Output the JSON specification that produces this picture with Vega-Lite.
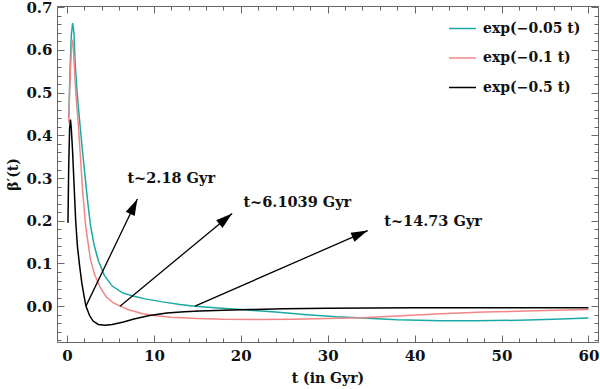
{
  "$schema": "https://vega.github.io/schema/vega-lite/v6.json",
  "width": 541,
  "height": 336,
  "autosize": {"type": "none"},
  "padding": {"left": 57, "top": 6, "right": 2, "bottom": 47},
  "background": "white",
  "config": {
    "view": {"stroke": "#666666", "strokeWidth": 1},
    "axis": {
      "domain": false, "grid": false, "tickColor": "#666666", "tickWidth": 1,
      "labelFont": "DejaVu Serif", "labelFontWeight": "bold", "labelFontSize": 15, "labelColor": "#111111",
      "titleFont": "DejaVu Serif", "titleFontWeight": "bold", "titleFontSize": 14, "titleColor": "#111111"
    },
    "legend": {
      "orient": "none", "legendX": 391, "legendY": 8, "padding": 0, "symbolType": "stroke", "symbolSize": 729,
      "symbolStrokeWidth": 1.5, "labelFont": "DejaVu Serif", "labelFontWeight": "bold", "labelFontSize": 14,
      "labelColor": "#111111", "labelOffset": 6, "rowPadding": 7.5
    }
  },
  "datasets": {
    "curves": [
      {"s": "exp(−0.05 t)", "t": 0.2, "v": 0.44},
      {"s": "exp(−0.05 t)", "t": 0.35, "v": 0.555},
      {"s": "exp(−0.05 t)", "t": 0.5, "v": 0.635},
      {"s": "exp(−0.05 t)", "t": 0.65, "v": 0.663},
      {"s": "exp(−0.05 t)", "t": 0.8, "v": 0.64},
      {"s": "exp(−0.05 t)", "t": 0.95, "v": 0.565},
      {"s": "exp(−0.05 t)", "t": 1.2, "v": 0.49},
      {"s": "exp(−0.05 t)", "t": 1.45, "v": 0.435},
      {"s": "exp(−0.05 t)", "t": 1.7, "v": 0.38},
      {"s": "exp(−0.05 t)", "t": 1.95, "v": 0.33},
      {"s": "exp(−0.05 t)", "t": 2.35, "v": 0.25},
      {"s": "exp(−0.05 t)", "t": 2.7, "v": 0.19},
      {"s": "exp(−0.05 t)", "t": 3.1, "v": 0.145},
      {"s": "exp(−0.05 t)", "t": 3.6, "v": 0.107},
      {"s": "exp(−0.05 t)", "t": 4.3, "v": 0.072},
      {"s": "exp(−0.05 t)", "t": 5.2, "v": 0.047},
      {"s": "exp(−0.05 t)", "t": 6.4, "v": 0.031},
      {"s": "exp(−0.05 t)", "t": 7.7, "v": 0.023},
      {"s": "exp(−0.05 t)", "t": 9, "v": 0.017},
      {"s": "exp(−0.05 t)", "t": 11, "v": 0.01},
      {"s": "exp(−0.05 t)", "t": 13, "v": 0.004},
      {"s": "exp(−0.05 t)", "t": 14.73, "v": 0},
      {"s": "exp(−0.05 t)", "t": 17, "v": -0.004},
      {"s": "exp(−0.05 t)", "t": 20, "v": -0.008},
      {"s": "exp(−0.05 t)", "t": 24, "v": -0.014},
      {"s": "exp(−0.05 t)", "t": 27.6, "v": -0.02},
      {"s": "exp(−0.05 t)", "t": 31, "v": -0.025},
      {"s": "exp(−0.05 t)", "t": 34, "v": -0.028},
      {"s": "exp(−0.05 t)", "t": 38, "v": -0.032},
      {"s": "exp(−0.05 t)", "t": 43, "v": -0.034},
      {"s": "exp(−0.05 t)", "t": 47, "v": -0.0345},
      {"s": "exp(−0.05 t)", "t": 52, "v": -0.033},
      {"s": "exp(−0.05 t)", "t": 56, "v": -0.031},
      {"s": "exp(−0.05 t)", "t": 60, "v": -0.028},

      {"s": "exp(−0.1 t)", "t": 0.2, "v": 0.43},
      {"s": "exp(−0.1 t)", "t": 0.35, "v": 0.53},
      {"s": "exp(−0.1 t)", "t": 0.5, "v": 0.6},
      {"s": "exp(−0.1 t)", "t": 0.6, "v": 0.624},
      {"s": "exp(−0.1 t)", "t": 0.72, "v": 0.61},
      {"s": "exp(−0.1 t)", "t": 0.9, "v": 0.54},
      {"s": "exp(−0.1 t)", "t": 1.05, "v": 0.49},
      {"s": "exp(−0.1 t)", "t": 1.26, "v": 0.437},
      {"s": "exp(−0.1 t)", "t": 1.57, "v": 0.343},
      {"s": "exp(−0.1 t)", "t": 1.8, "v": 0.27},
      {"s": "exp(−0.1 t)", "t": 2.15, "v": 0.187},
      {"s": "exp(−0.1 t)", "t": 2.7, "v": 0.109},
      {"s": "exp(−0.1 t)", "t": 3.2, "v": 0.073},
      {"s": "exp(−0.1 t)", "t": 3.8, "v": 0.045},
      {"s": "exp(−0.1 t)", "t": 4.5, "v": 0.022},
      {"s": "exp(−0.1 t)", "t": 5.3, "v": 0.008},
      {"s": "exp(−0.1 t)", "t": 6.1, "v": 0},
      {"s": "exp(−0.1 t)", "t": 7, "v": -0.008},
      {"s": "exp(−0.1 t)", "t": 8.7, "v": -0.018},
      {"s": "exp(−0.1 t)", "t": 10, "v": -0.022},
      {"s": "exp(−0.1 t)", "t": 12, "v": -0.026},
      {"s": "exp(−0.1 t)", "t": 15, "v": -0.029},
      {"s": "exp(−0.1 t)", "t": 18, "v": -0.031},
      {"s": "exp(−0.1 t)", "t": 22, "v": -0.0315},
      {"s": "exp(−0.1 t)", "t": 26, "v": -0.031},
      {"s": "exp(−0.1 t)", "t": 30, "v": -0.029},
      {"s": "exp(−0.1 t)", "t": 34, "v": -0.027},
      {"s": "exp(−0.1 t)", "t": 38, "v": -0.023},
      {"s": "exp(−0.1 t)", "t": 43, "v": -0.018},
      {"s": "exp(−0.1 t)", "t": 48, "v": -0.014},
      {"s": "exp(−0.1 t)", "t": 54, "v": -0.011},
      {"s": "exp(−0.1 t)", "t": 60, "v": -0.008},

      {"s": "exp(−0.5 t)", "t": 0.11, "v": 0.195},
      {"s": "exp(−0.5 t)", "t": 0.2, "v": 0.33},
      {"s": "exp(−0.5 t)", "t": 0.3, "v": 0.415},
      {"s": "exp(−0.5 t)", "t": 0.4, "v": 0.437},
      {"s": "exp(−0.5 t)", "t": 0.5, "v": 0.415},
      {"s": "exp(−0.5 t)", "t": 0.65, "v": 0.36},
      {"s": "exp(−0.5 t)", "t": 0.8, "v": 0.29},
      {"s": "exp(−0.5 t)", "t": 1.0, "v": 0.2},
      {"s": "exp(−0.5 t)", "t": 1.2, "v": 0.14},
      {"s": "exp(−0.5 t)", "t": 1.45, "v": 0.095},
      {"s": "exp(−0.5 t)", "t": 1.7, "v": 0.055},
      {"s": "exp(−0.5 t)", "t": 1.95, "v": 0.025},
      {"s": "exp(−0.5 t)", "t": 2.18, "v": 0},
      {"s": "exp(−0.5 t)", "t": 2.6, "v": -0.022},
      {"s": "exp(−0.5 t)", "t": 3.0, "v": -0.035},
      {"s": "exp(−0.5 t)", "t": 3.6, "v": -0.043},
      {"s": "exp(−0.5 t)", "t": 4.4, "v": -0.045},
      {"s": "exp(−0.5 t)", "t": 5.2, "v": -0.043},
      {"s": "exp(−0.5 t)", "t": 6.5, "v": -0.037},
      {"s": "exp(−0.5 t)", "t": 7.7, "v": -0.03},
      {"s": "exp(−0.5 t)", "t": 9.5, "v": -0.022},
      {"s": "exp(−0.5 t)", "t": 11.5, "v": -0.016},
      {"s": "exp(−0.5 t)", "t": 13.5, "v": -0.013},
      {"s": "exp(−0.5 t)", "t": 15.3, "v": -0.0115},
      {"s": "exp(−0.5 t)", "t": 18, "v": -0.0095},
      {"s": "exp(−0.5 t)", "t": 21, "v": -0.008},
      {"s": "exp(−0.5 t)", "t": 25, "v": -0.006},
      {"s": "exp(−0.5 t)", "t": 30, "v": -0.005},
      {"s": "exp(−0.5 t)", "t": 40, "v": -0.004},
      {"s": "exp(−0.5 t)", "t": 50, "v": -0.0038},
      {"s": "exp(−0.5 t)", "t": 60, "v": -0.0035}
    ],
    "arrows": [
      {"arrow": "a1", "part": "start", "t": 2.18, "v": 0},
      {"arrow": "a1", "part": "tip", "t": 8.1, "v": 0.251},
      {"arrow": "a2", "part": "start", "t": 6.1, "v": 0},
      {"arrow": "a2", "part": "tip", "t": 19.0, "v": 0.217},
      {"arrow": "a3", "part": "start", "t": 14.73, "v": 0},
      {"arrow": "a3", "part": "tip", "t": 34.6, "v": 0.177}
    ],
    "notes": [
      {"label": "t~2.18 Gyr", "t": 6.95, "v": 0.298},
      {"label": "t~6.1039 Gyr", "t": 20.3, "v": 0.242},
      {"label": "t~14.73 Gyr", "t": 36.5, "v": 0.198}
    ]
  },
  "resolve": {"axis": {"x": "independent", "y": "independent"}},
  "layer": [
    {
      "data": {"name": "curves"},
      "mark": {"type": "line", "strokeWidth": 1.5},
      "encoding": {
        "x": {"field": "t", "type": "quantitative", "scale": {"domain": [-1.15, 61.1], "nice": false, "zero": false},
              "axis": {"orient": "bottom", "values": [0, 10, 20, 30, 40, 50, 60], "tickSize": -7, "labelPadding": 13, "title": "t (in Gyr)", "titlePadding": 8}},
        "y": {"field": "v", "type": "quantitative", "scale": {"domain": [-0.084, 0.703], "nice": false, "zero": false},
              "axis": {"orient": "left", "values": [0, 0.1, 0.2, 0.3, 0.4, 0.5, 0.6, 0.7], "format": ".1f", "tickSize": -7, "labelPadding": 12, "title": "β′(t)", "titlePadding": 5}},
        "color": {"field": "s", "type": "nominal",
                  "scale": {"domain": ["exp(−0.05 t)", "exp(−0.1 t)", "exp(−0.5 t)"], "range": ["#1aa9a4", "#f28585", "#000000"]},
                  "legend": {"title": null}}
      }
    },
    {
      "data": {"name": "arrows"},
      "mark": {"type": "line", "color": "#000000", "strokeWidth": 1.3},
      "encoding": {
        "x": {"field": "t", "type": "quantitative", "scale": {"domain": [-1.15, 61.1], "nice": false, "zero": false},
              "axis": {"orient": "bottom", "values": [0, 2, 4, 6, 8, 10, 12, 14, 16, 18, 20, 22, 24, 26, 28, 30, 32, 34, 36, 38, 40, 42, 44, 46, 48, 50, 52, 54, 56, 58, 60], "labels": false, "tickSize": -4, "title": null}},
        "y": {"field": "v", "type": "quantitative", "scale": {"domain": [-0.084, 0.703], "nice": false, "zero": false},
              "axis": {"orient": "left", "values": [-0.08, -0.06, -0.04, -0.02, 0, 0.02, 0.04, 0.06, 0.08, 0.1, 0.12, 0.14, 0.16, 0.18, 0.2, 0.22, 0.24, 0.26, 0.28, 0.3, 0.32, 0.34, 0.36, 0.38, 0.4, 0.42, 0.44, 0.46, 0.48, 0.5, 0.52, 0.54, 0.56, 0.58, 0.6, 0.62, 0.64, 0.66, 0.68, 0.7], "labels": false, "tickSize": -4, "title": null}},
        "detail": {"field": "arrow", "type": "nominal"}
      }
    },
    {
      "data": {"name": "notes"},
      "mark": {"type": "text", "align": "left", "baseline": "middle", "font": "DejaVu Serif", "fontWeight": "bold", "fontSize": 14.5, "color": "#111111"},
      "encoding": {
        "x": {"field": "t", "type": "quantitative", "scale": {"domain": [-1.15, 61.1], "nice": false, "zero": false},
              "axis": {"orient": "top", "values": [0, 10, 20, 30, 40, 50, 60], "labels": false, "tickSize": -7, "title": null}},
        "y": {"field": "v", "type": "quantitative", "scale": {"domain": [-0.084, 0.703], "nice": false, "zero": false},
              "axis": {"orient": "right", "values": [0, 0.1, 0.2, 0.3, 0.4, 0.5, 0.6, 0.7], "labels": false, "tickSize": -7, "title": null}},
        "text": {"field": "label", "type": "nominal"}
      }
    },
    {
      "data": {"name": "arrows"},
      "transform": [{"filter": "datum.arrow === 'a1' && datum.part === 'tip'"}],
      "mark": {"type": "point", "shape": "M0,0L-0.3,1L0.3,1Z", "filled": true, "color": "#000000", "opacity": 1, "size": 1100, "angle": 25.7},
      "encoding": {
        "x": {"field": "t", "type": "quantitative", "scale": {"domain": [-1.15, 61.1], "nice": false, "zero": false},
              "axis": {"orient": "top", "values": [0, 2, 4, 6, 8, 10, 12, 14, 16, 18, 20, 22, 24, 26, 28, 30, 32, 34, 36, 38, 40, 42, 44, 46, 48, 50, 52, 54, 56, 58, 60], "labels": false, "tickSize": -4, "title": null}},
        "y": {"field": "v", "type": "quantitative", "scale": {"domain": [-0.084, 0.703], "nice": false, "zero": false},
              "axis": {"orient": "right", "values": [-0.08, -0.06, -0.04, -0.02, 0, 0.02, 0.04, 0.06, 0.08, 0.1, 0.12, 0.14, 0.16, 0.18, 0.2, 0.22, 0.24, 0.26, 0.28, 0.3, 0.32, 0.34, 0.36, 0.38, 0.4, 0.42, 0.44, 0.46, 0.48, 0.5, 0.52, 0.54, 0.56, 0.58, 0.6, 0.62, 0.64, 0.66, 0.68, 0.7], "labels": false, "tickSize": -4, "title": null}}
      }
    },
    {
      "data": {"name": "arrows"},
      "transform": [{"filter": "datum.arrow === 'a2' && datum.part === 'tip'"}],
      "mark": {"type": "point", "shape": "M0,0L-0.3,1L0.3,1Z", "filled": true, "color": "#000000", "opacity": 1, "size": 1100, "angle": 50.4},
      "encoding": {
        "x": {"field": "t", "type": "quantitative", "scale": {"domain": [-1.15, 61.1], "nice": false, "zero": false}, "axis": null},
        "y": {"field": "v", "type": "quantitative", "scale": {"domain": [-0.084, 0.703], "nice": false, "zero": false}, "axis": null}
      }
    },
    {
      "data": {"name": "arrows"},
      "transform": [{"filter": "datum.arrow === 'a3' && datum.part === 'tip'"}],
      "mark": {"type": "point", "shape": "M0,0L-0.3,1L0.3,1Z", "filled": true, "color": "#000000", "opacity": 1, "size": 1100, "angle": 66.4},
      "encoding": {
        "x": {"field": "t", "type": "quantitative", "scale": {"domain": [-1.15, 61.1], "nice": false, "zero": false}, "axis": null},
        "y": {"field": "v", "type": "quantitative", "scale": {"domain": [-0.084, 0.703], "nice": false, "zero": false}, "axis": null}
      }
    },
    {
      "mark": {"type": "rule", "color": "#555555", "strokeWidth": 1},
      "encoding": {
        "y": {"datum": 0, "type": "quantitative", "scale": {"domain": [-0.084, 0.703], "nice": false, "zero": false}, "axis": null}
      }
    }
  ]
}
